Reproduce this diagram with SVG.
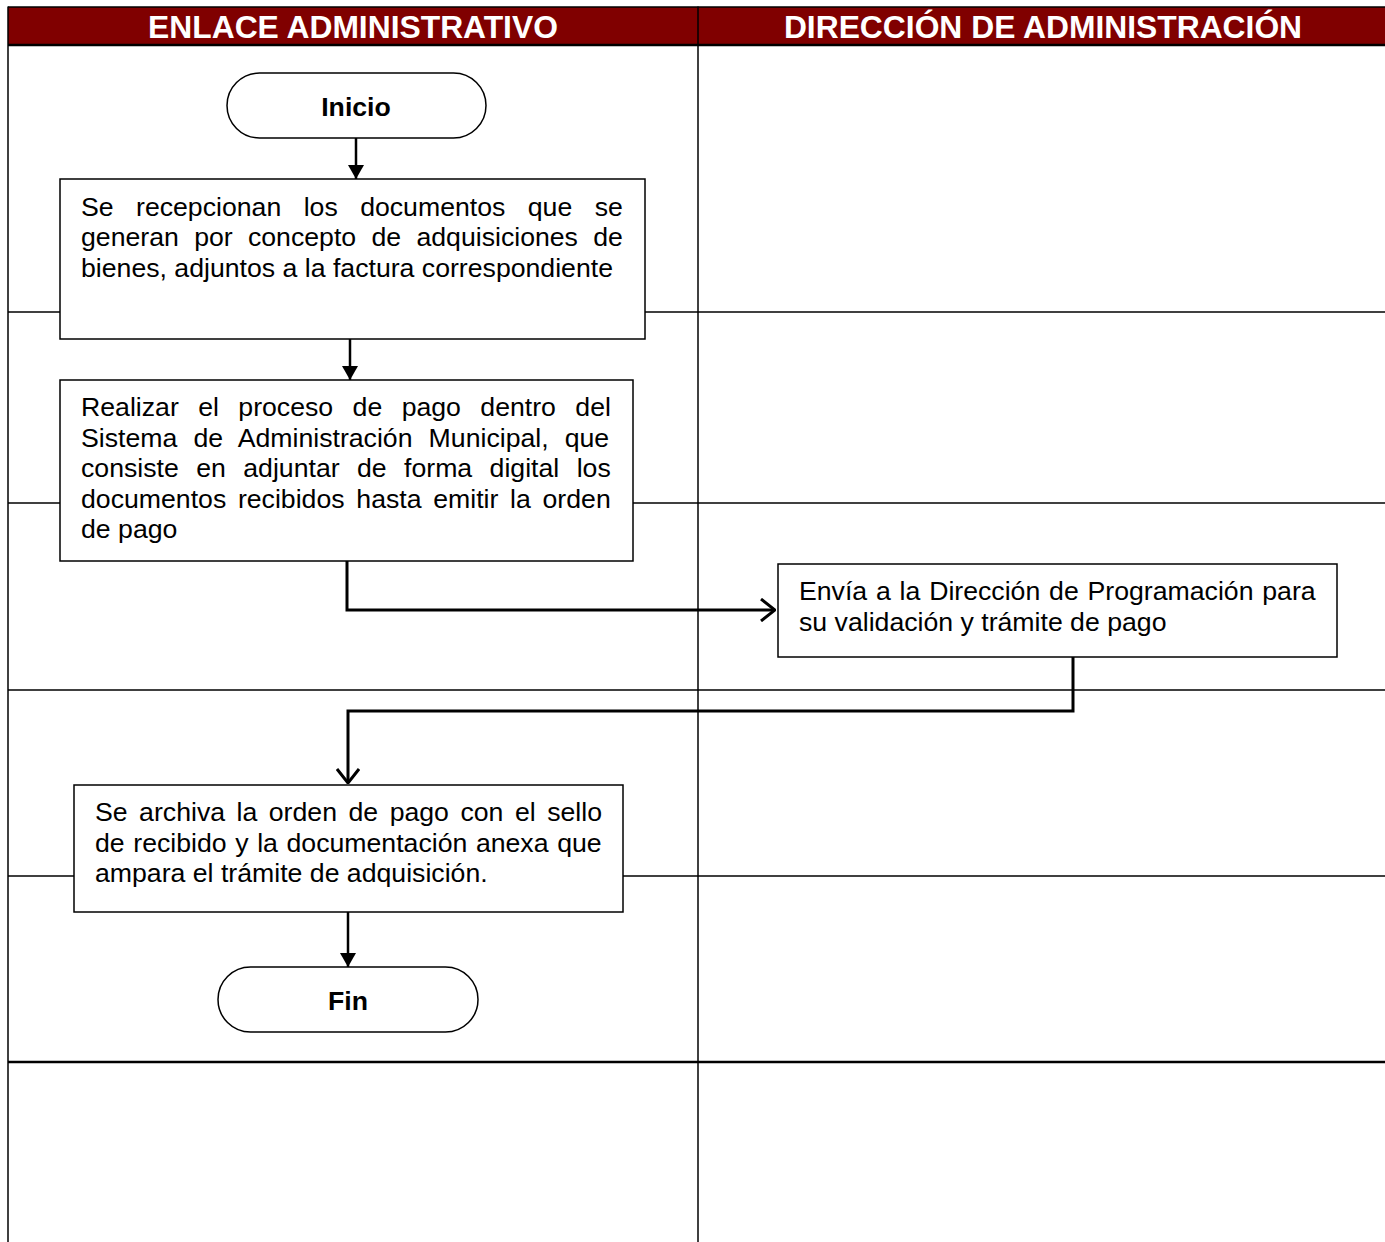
<svg xmlns="http://www.w3.org/2000/svg" width="1385" height="1242" viewBox="0 0 1385 1242">
<style>
.lane{stroke:#000;stroke-width:1.5;fill:none}
.box{fill:#fff;stroke:#000;stroke-width:1.5}
.t{font-family:"Liberation Sans",Arial,sans-serif;font-size:26.67px;fill:#000}
.b{font-family:"Liberation Sans",Arial,sans-serif;font-size:26.67px;font-weight:bold;fill:#000}
.h{font-family:"Liberation Sans",Arial,sans-serif;font-size:31.8px;font-weight:bold;fill:#fff}
.c{stroke:#000;stroke-width:2.5;fill:none}
.ct{stroke:#000;stroke-width:3;fill:none}
</style>
<defs>
<marker id="fa" viewBox="0 0 14 16" refX="14" refY="8" markerWidth="14" markerHeight="16" markerUnits="userSpaceOnUse" orient="auto"><path d="M0,0 L14,8 L0,16 Z" fill="#000"/></marker>
<marker id="oa" viewBox="0 0 16 24" refX="15" refY="12" markerWidth="16" markerHeight="24" markerUnits="userSpaceOnUse" orient="auto"><path d="M1,1 L15,12 L1,23" fill="none" stroke="#000" stroke-width="3"/></marker>
</defs>
<rect width="1385" height="1242" fill="#fff"/>
<g id="lanes">
<rect x="8" y="7" width="1380" height="38" fill="#800000"/>
<line class="lane" x1="8" y1="7" x2="1385" y2="7"/>
<line x1="8" y1="45" x2="1385" y2="45" stroke="#000" stroke-width="2.5"/>
<line class="lane" x1="8" y1="6.5" x2="8" y2="1242"/>
<line class="lane" x1="698" y1="6.5" x2="698" y2="1242"/>
<line class="lane" x1="8" y1="312" x2="1385" y2="312"/>
<line class="lane" x1="8" y1="503" x2="1385" y2="503"/>
<line class="lane" x1="8" y1="690" x2="1385" y2="690"/>
<line class="lane" x1="8" y1="876" x2="1385" y2="876"/>
<line x1="8" y1="1062" x2="1385" y2="1062" stroke="#000" stroke-width="2.5"/>
<text class="h" x="353" y="37.5" text-anchor="middle">ENLACE ADMINISTRATIVO</text>
<text class="h" x="1043" y="37.5" text-anchor="middle">DIRECCIÓN DE ADMINISTRACIÓN</text>
</g>
<g id="connectors">
<line class="c" x1="356" y1="138" x2="356" y2="179" marker-end="url(#fa)"/>
<line class="c" x1="350" y1="339" x2="350" y2="380" marker-end="url(#fa)"/>
<polyline class="ct" points="347,561 347,610 775,610" marker-end="url(#oa)"/>
<polyline class="ct" points="1073,657 1073,711 348,711 348,783" marker-end="url(#oa)"/>
<line class="c" x1="348" y1="912" x2="348" y2="967" marker-end="url(#fa)"/>
</g>
<g id="inicio">
<rect class="box" x="227" y="73" width="259" height="65" rx="32.5"/>
<text class="b" x="356" y="115.5" text-anchor="middle">Inicio</text>
</g>
<g id="recepcion">
<rect class="box" x="60" y="179" width="585" height="160"/>
<text class="t" x="81" y="215.5" word-spacing="15">Se recepcionan los documentos que se</text>
<text class="t" x="81" y="246" word-spacing="7.9">generan por concepto de adquisiciones de</text>
<text class="t" x="81" y="276.5">bienes, adjuntos a la factura correspondiente</text>
</g>
<g id="proceso">
<rect class="box" x="60" y="380" width="573" height="181"/>
<text class="t" x="81" y="416" word-spacing="12">Realizar el proceso de pago dentro del</text>
<text class="t" x="81" y="446.5" word-spacing="8.7">Sistema de Administración Municipal, que</text>
<text class="t" x="81" y="477" word-spacing="10">consiste en adjuntar de forma digital los</text>
<text class="t" x="81" y="507.5" word-spacing="4.3">documentos recibidos hasta emitir la orden</text>
<text class="t" x="81" y="538">de pago</text>
</g>
<g id="envia">
<rect class="box" x="778" y="564" width="559" height="93"/>
<text class="t" x="799" y="600" word-spacing="1.4">Envía a la Dirección de Programación para</text>
<text class="t" x="799" y="630.5">su validación y trámite de pago</text>
</g>
<g id="archiva">
<rect class="box" x="74" y="785" width="549" height="127"/>
<text class="t" x="95" y="821" word-spacing="4.1">Se archiva la orden de pago con el sello</text>
<text class="t" x="95" y="851.5" word-spacing="1.2">de recibido y la documentación anexa que</text>
<text class="t" x="95" y="882">ampara el trámite de adquisición.</text>
</g>
<g id="fin">
<rect class="box" x="218" y="967" width="260" height="65" rx="32.5"/>
<text class="b" x="348" y="1009.5" text-anchor="middle">Fin</text>
</g>
</svg>
